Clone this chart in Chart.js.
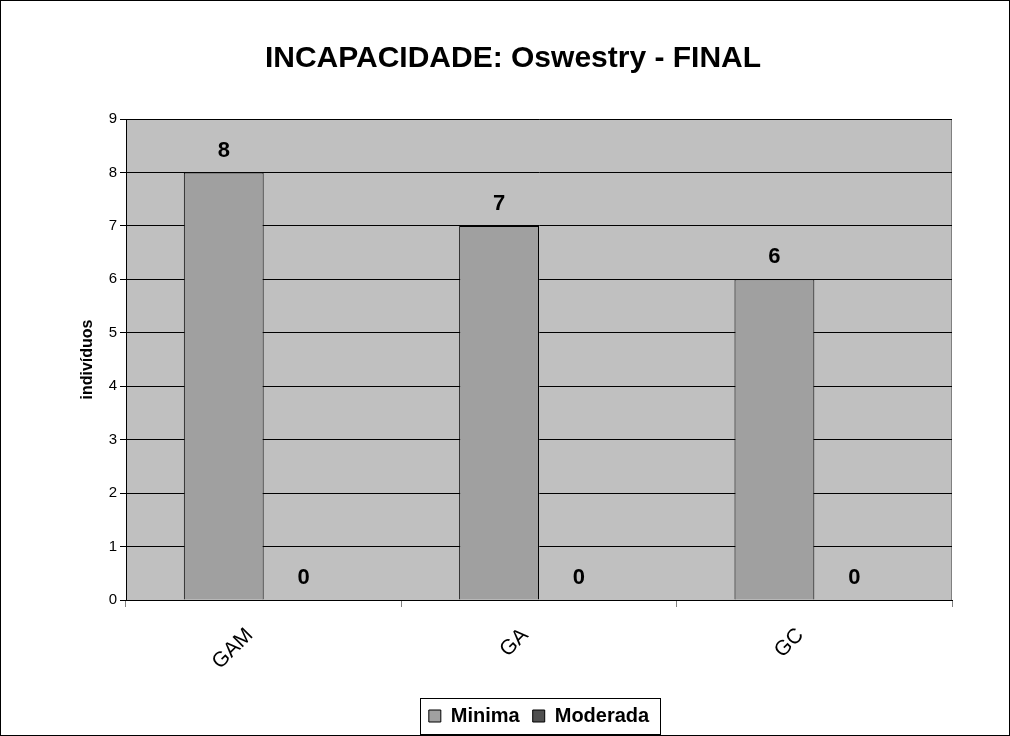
<!DOCTYPE html>
<html>
<head>
<meta charset="utf-8">
<script src="https://cdn.jsdelivr.net/npm/chart.js@4"></script>
<style>
  html, body { margin: 0; padding: 0; background: #fff; }
  #wrap { width: 1010px; height: 736px; }
</style>
</head>
<body>
<div id="wrap"><canvas id="oswestryChart" width="1010" height="736"></canvas></div>
<script>
const groups = ['GAM', 'GA', 'GC'];
const minimaValues = [8, 7, 6];
const moderadaValues = [0, 0, 0];
const yTicks = [0, 1, 2, 3, 4, 5, 6, 7, 8, 9];

const FONT = 'Arial, "Liberation Sans", sans-serif';

// frame round the whole picture + grey plot background + legend box
const framePlugin = {
  id: 'frame',
  beforeDraw(chart) {
    const ctx = chart.ctx;
    const a = chart.chartArea;
    ctx.save();
    ctx.fillStyle = '#fff';
    ctx.fillRect(0, 0, chart.width, chart.height);
    ctx.fillStyle = '#C0C0C0';
    ctx.fillRect(a.left, a.top, a.right - a.left, a.bottom - a.top);
    ctx.strokeStyle = '#808080';
    ctx.lineWidth = 1;
    ctx.strokeRect(a.left + 0.5, a.top + 0.5, a.right - a.left - 1, a.bottom - a.top);
    ctx.restore();
  },
  afterDraw(chart) {
    const ctx = chart.ctx;
    ctx.save();
    ctx.strokeStyle = '#000';
    ctx.lineWidth = 1;
    ctx.strokeRect(0.5, 0.5, chart.width - 1, chart.height - 1);
    const boxes = chart.legend && chart.legend.legendHitBoxes;
    if (boxes && boxes.length) {
      const l = Math.min(...boxes.map(b => b.left)) - 9;
      const r = Math.max(...boxes.map(b => b.left + b.width)) + 11;
      const t = Math.min(...boxes.map(b => b.top)) - 8;
      const bt = Math.max(...boxes.map(b => b.top + b.height)) + 8;
      ctx.strokeRect(Math.round(l) + 0.5, Math.round(t) + 0.5, Math.round(r - l), Math.round(bt - t));
    }
    ctx.restore();
  }
};

// bold value labels above each bar
const valueLabels = {
  id: 'valueLabels',
  afterDatasetsDraw(chart) {
    const ctx = chart.ctx;
    ctx.save();
    ctx.font = 'bold 22px ' + FONT;
    ctx.fillStyle = '#000';
    ctx.textAlign = 'center';
    ctx.textBaseline = 'bottom';
    chart.data.datasets.forEach((ds, i) => {
      chart.getDatasetMeta(i).data.forEach((bar, j) => {
        ctx.fillText(String(ds.data[j]), bar.x, bar.y - 11);
      });
    });
    ctx.restore();
  }
};

const ctx = document.getElementById('oswestryChart').getContext('2d');
new Chart(ctx, {
  type: 'bar',
  data: {
    labels: groups,
    datasets: [
      {
        label: 'Minima',
        data: minimaValues,
        backgroundColor: '#A0A0A0',
        borderColor: '#000',
        borderWidth: 1,
      },
      {
        label: 'Moderada',
        data: moderadaValues,
        backgroundColor: '#505050',
        borderColor: '#000',
        borderWidth: 1,
      },
    ],
  },
  options: {
    responsive: false,
    animation: false,
    maintainAspectRatio: false,
    layout: { padding: { left: 74, right: 58, top: 0, bottom: 0 } },
    datasets: {
      bar: { categoryPercentage: 0.58, barPercentage: 1.0 }
    },
    plugins: {
      title: {
        display: true,
        text: 'INCAPACIDADE: Oswestry - FINAL',
        color: '#000',
        font: { family: FONT, size: 30, weight: 'bold' },
        padding: { top: 41, bottom: 42 },
      },
      legend: {
        position: 'bottom',
        fullSize: false,
        labels: {
          color: '#000',
          font: { family: FONT, size: 20, weight: 'bold' },
          boxWidth: 12,
          boxHeight: 12,
          padding: 13,
          generateLabels(chart) {
            return chart.data.datasets.map((ds, i) => ({
              text: ds.label,
              fillStyle: ds.backgroundColor,
              strokeStyle: '#000',
              lineWidth: 1,
              datasetIndex: i,
              fontColor: '#000',
            }));
          },
        },
      },
      tooltip: { enabled: false },
    },
    scales: {
      x: {
        grid: {
          display: true,
          drawOnChartArea: false,
          drawTicks: true,
          tickLength: 7,
          color: '#808080',
          offset: true,
        },
        border: { color: '#000', width: 1 },
        ticks: {
          color: '#000',
          font: { family: FONT, size: 21 },
          maxRotation: 45,
          minRotation: 45,
          padding: 16,
          labelOffset: -14,
        },
        afterFit(scale) { scale.height = 93; },
      },
      y: {
        min: 0,
        max: yTicks[yTicks.length - 1],
        afterBuildTicks(scale) { scale.ticks = yTicks.map(v => ({ value: v })); },
        grid: {
          color: '#000',
          tickLength: 6,
          drawTicks: true,
        },
        border: { color: '#000', width: 1 },
        ticks: {
          color: '#000',
          font: { family: FONT, size: 15 },
          padding: 3,
        },
        title: {
          display: true,
          text: 'indivíduos',
          color: '#000',
          font: { family: FONT, size: 16, weight: 'bold' },
          padding: { top: 4, bottom: 0 },
        },
        afterFit(scale) { scale.width = 52; },
      },
    },
  },
  plugins: [framePlugin, valueLabels],
});
</script>
</body>
</html>
